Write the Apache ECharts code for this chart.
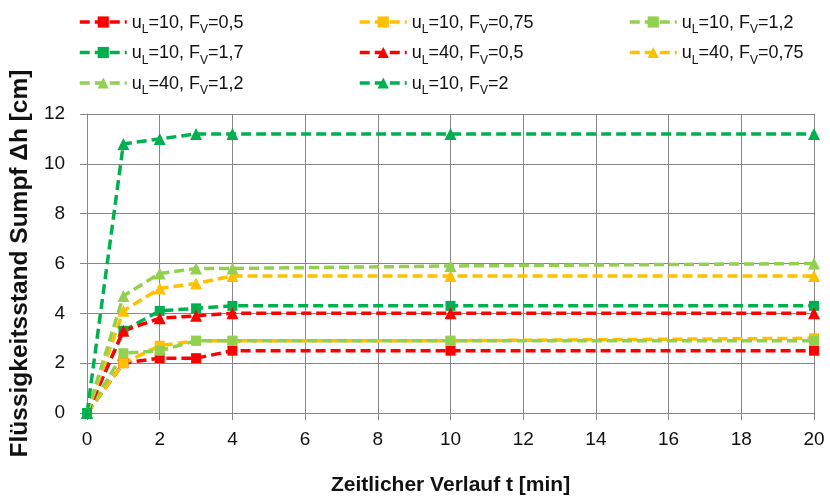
<!DOCTYPE html>
<html>
<head>
<meta charset="utf-8">
<script src="https://cdn.jsdelivr.net/npm/echarts@6/dist/echarts.min.js"></script>
<style>
  html, body { margin: 0; padding: 0; background: #fff; }
  #chart { width: 830px; height: 501px; }
</style>
</head>
<body>
<div id="chart"></div>
<script>
// Measurement times [min]
const times = [0, 1, 2, 3, 4, 10, 20];

// Sump level Δh [cm] for each run
const uL10_FV05  = [0, 2.0, 2.2, 2.2, 2.5, 2.5, 2.5];
const uL10_FV075 = [0, 2.0, 2.7, 2.9, 2.9, 2.9, 3.0];
const uL10_FV12  = [0, 2.4, 2.5, 2.9, 2.9, 2.9, 2.9];
const uL10_FV17  = [0, 3.3, 4.1, 4.2, 4.3, 4.3, 4.3];
const uL40_FV05  = [0, 3.3, 3.8, 3.9, 4.0, 4.0, 4.0];
const uL40_FV075 = [0, 4.1, 5.0, 5.2, 5.5, 5.5, 5.5];
const uL40_FV12  = [0, 4.7, 5.6, 5.8, 5.8, 5.9, 6.0];
const uL10_FV2   = [0, 10.8, 11.0, 11.2, 11.2, 11.2, 11.2];

// Legend labels ("_" marks a subscript letter)
const seriesNames = [
  'u_L=10, F_V=0,5', 'u_L=10, F_V=0,75', 'u_L=10, F_V=1,2', 'u_L=10, F_V=1,7',
  'u_L=40, F_V=0,5', 'u_L=40, F_V=0,75', 'u_L=40, F_V=1,2', 'u_L=10, F_V=2'
];
const seriesValues = [uL10_FV05, uL10_FV075, uL10_FV12, uL10_FV17,
                      uL40_FV05, uL40_FV075, uL40_FV12, uL10_FV2];
const seriesColors = ['#FF0000', '#FFC000', '#92D050', '#00B050',
                      '#FF0000', '#FFC000', '#92D050', '#00B050'];
const seriesSymbols = ['rect', 'rect', 'rect', 'rect',
                       'triangle', 'triangle', 'triangle', 'triangle'];

const GRID_COLOR = '#888888';
const TEXT_COLOR = '#111111';
const FONT = 'Liberation Sans';

const series = seriesNames.map((name, i) => ({
  name: name,
  type: 'line',
  data: times.map((t, k) => [t, seriesValues[i][k]]),
  symbol: seriesSymbols[i],
  symbolSize: seriesSymbols[i] === 'rect' ? 10 : 12,
  itemStyle: { color: seriesColors[i] },
  lineStyle: { color: seriesColors[i], width: 3.5, type: [10, 5], cap: 'butt' },
  emphasis: { disabled: true },
  animation: false
}));

// Turn "u_L" into rich text with a subscript
function richName(name) {
  return name.split(/_(\w)/).map((part, idx) =>
    idx % 2 === 1 ? '{s|' + part + '}' : (part ? '{n|' + part + '}' : '')
  ).join('');
}

const legendText = {
  rich: {
    n: { fontFamily: FONT, fontSize: 18, color: TEXT_COLOR, lineHeight: 20, verticalAlign: 'bottom' },
    s: { fontFamily: FONT, fontSize: 12, color: TEXT_COLOR, lineHeight: 20, verticalAlign: 'bottom', padding: [0, 0, -4, 0] }
  }
};

function legendColumn(names, left) {
  return {
    orient: 'vertical',
    left: left,
    top: 9,
    itemGap: 8.5,
    itemWidth: 47,
    itemHeight: 14,
    data: names,
    formatter: richName,
    textStyle: legendText,
    lineStyle: { width: 3.5, type: [10, 5], cap: 'butt' },
    selectedMode: false
  };
}

const chart = echarts.init(document.getElementById('chart'), null, { renderer: 'canvas' });
chart.setOption({
  animation: false,
  backgroundColor: '#ffffff',
  legend: [
    legendColumn([seriesNames[0], seriesNames[3], seriesNames[6]], 73),
    legendColumn([seriesNames[1], seriesNames[4], seriesNames[7]], 353),
    legendColumn([seriesNames[2], seriesNames[5]], 623)
  ],
  grid: { left: 87, right: 16, top: 114, bottom: 86 },
  xAxis: {
    type: 'value',
    min: 0, max: 20, interval: 2,
    name: 'Zeitlicher Verlauf t [min]',
    nameLocation: 'middle',
    nameGap: 62,
    nameTextStyle: { fontFamily: FONT, fontWeight: 'bold', fontSize: 21, color: TEXT_COLOR },
    axisLine: { show: true, lineStyle: { color: GRID_COLOR, width: 1 } },
    axisTick: { show: true, length: 7, lineStyle: { color: GRID_COLOR } },
    axisLabel: { fontFamily: FONT, fontSize: 19, color: TEXT_COLOR, margin: 17 },
    splitLine: { show: true, lineStyle: { color: GRID_COLOR, width: 1 } }
  },
  yAxis: {
    type: 'value',
    min: 0, max: 12, interval: 2,
    name: 'Flüssigkeitsstand Sumpf Δh [cm]',
    nameLocation: 'middle',
    nameGap: 54,
    nameTextStyle: { fontFamily: FONT, fontWeight: 'bold', fontSize: 24.5, color: TEXT_COLOR },
    axisLine: { show: true, lineStyle: { color: GRID_COLOR, width: 1 } },
    axisTick: { show: true, length: 7, lineStyle: { color: GRID_COLOR } },
    axisLabel: { fontFamily: FONT, fontSize: 19, color: TEXT_COLOR, margin: 22 },
    splitLine: { show: true, lineStyle: { color: GRID_COLOR, width: 1 } }
  },
  series: series
});
</script>
</body>
</html>
